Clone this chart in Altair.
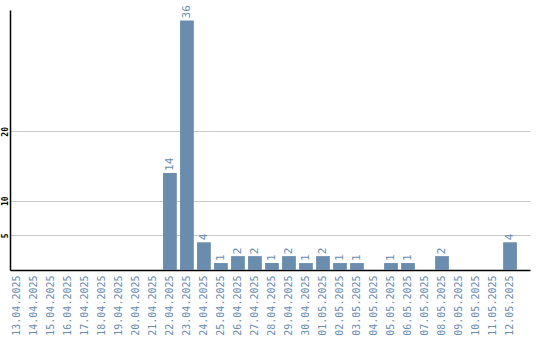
import altair as alt
import pandas as pd

dates = ["13.04.2025","14.04.2025","15.04.2025","16.04.2025","17.04.2025","18.04.2025",
         "19.04.2025","20.04.2025","21.04.2025","22.04.2025","23.04.2025","24.04.2025",
         "25.04.2025","26.04.2025","27.04.2025","28.04.2025","29.04.2025","30.04.2025",
         "01.05.2025","02.05.2025","03.05.2025","04.05.2025","05.05.2025","06.05.2025",
         "07.05.2025","08.05.2025","09.05.2025","10.05.2025","11.05.2025","12.05.2025"]
counts = [0,0,0,0,0,0,0,0,0,14,36,4,1,2,2,1,2,1,2,1,1,0,1,1,0,2,0,0,0,4]
y_ticks = [5, 10, 20]

df = pd.DataFrame({"date": dates, "count": counts})
df["label"] = [str(c) if c > 0 else "" for c in counts]

BAR = "#6a8cad"
FONT = "DejaVu Sans Mono"

xenc = alt.X("date:N", sort=dates,
             scale=alt.Scale(paddingInner=0.19, paddingOuter=0.385, align=0),
             axis=alt.Axis(title=None, labelAngle=-90, labelColor=BAR, labelFont=FONT,
                           labelFontSize=10, labelPadding=5, ticks=False, domainColor="black",
                           domainWidth=1.5, grid=False))
yscale = alt.Scale(domain=[0, 37.5], nice=False)

bars = alt.Chart(df).mark_bar(color=BAR).encode(
    x=xenc,
    y=alt.Y("count:Q", scale=yscale,
            axis=alt.Axis(title=None, values=y_ticks, labelAngle=-90, labelFont=FONT,
                          labelFontSize=8, labelFontWeight="bold", labelColor="black",
                          labelAlign="center", labelBaseline="bottom", labelPadding=1,
                          ticks=False, domainColor="black", domainWidth=1.5,
                          grid=True, gridColor="#c8c8c8", gridWidth=1.2)),
)

text = alt.Chart(df).mark_text(angle=270, align="left", baseline="middle", dx=2,
                               color=BAR, font=FONT, fontSize=11).encode(
    x=alt.X("date:N", sort=dates),
    y=alt.Y("count:Q", scale=yscale),
    text="label:N",
)

chart = (bars + text).properties(
    width=520, height=260,
    autosize=alt.AutoSizeParams(type="none"),
    padding={"left": 10, "top": 10, "right": 10, "bottom": 70},
).configure_view(stroke=None)

chart.save("out.html", embed_options={"renderer": "svg", "actions": False})
